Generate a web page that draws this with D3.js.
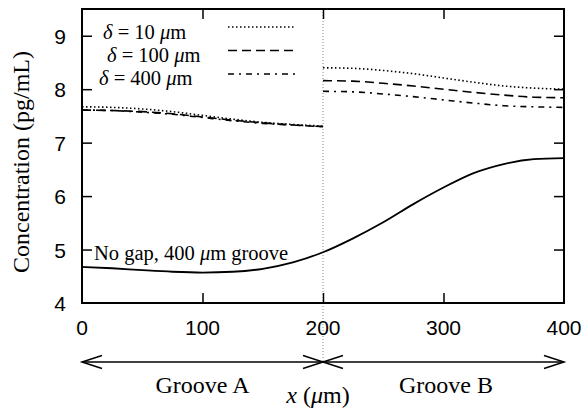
<!DOCTYPE html>
<html>
<head>
<meta charset="utf-8">
<script src="https://cdn.jsdelivr.net/npm/d3@7"></script>
<style>
  body { margin: 0; background: #fff; }
  svg { display: block; }
  .serif { font-family: "Liberation Serif", "Times New Roman", serif; }
  .sans { font-family: "Liberation Sans", Arial, sans-serif; }
</style>
</head>
<body>
<svg id="chart" width="587" height="410"></svg>
<script>
// x positions (um) for each half of the channel and the whole length
const xLeft = [0, 25, 50, 75, 100, 125, 150, 175, 200];
const xRight = [200, 225, 250, 275, 300, 325, 350, 375, 400];
const xFull = [0, 25, 50, 75, 100, 125, 150, 175, 200, 225, 250, 275, 300, 325, 350, 375, 400];

// concentration (pg/mL)
const d10Left = [7.67, 7.66, 7.63, 7.58, 7.51, 7.44, 7.38, 7.34, 7.31];
const d100Left = [7.61, 7.60, 7.58, 7.54, 7.48, 7.42, 7.37, 7.33, 7.30];
const d400Left = [7.61, 7.60, 7.57, 7.53, 7.47, 7.41, 7.36, 7.33, 7.30];
const d10Right = [8.40, 8.39, 8.35, 8.29, 8.21, 8.13, 8.06, 8.02, 8.00];
const d100Right = [8.16, 8.15, 8.11, 8.06, 8.00, 7.94, 7.89, 7.85, 7.84];
const d400Right = [7.96, 7.95, 7.91, 7.86, 7.80, 7.74, 7.69, 7.67, 7.66];
const noGap = [4.675, 4.65, 4.615, 4.585, 4.57, 4.585, 4.64, 4.76, 4.95, 5.21, 5.51, 5.85, 6.16, 6.43, 6.60, 6.69, 6.71];

const xTicks = [0, 100, 200, 300, 400];
const yTicks = [4, 5, 6, 7, 8, 9];
const legendLabels = ["10", "100", "400"];

const svg = d3.select("#chart");
const pLeft = 82, pRight = 564, pTop = 9, pBottom = 303;

const x = d3.scaleLinear().domain([0, 400]).range([pLeft, pRight]);
const y = d3.scaleLinear().domain([4, 9.5]).range([pBottom, pTop]);

const line = d3.line()
    .x(function (d) { return x(d[0]); })
    .y(function (d) { return y(d[1]); })
    .curve(d3.curveMonotoneX);

const zip = function (xs, ys) {
    return xs.map(function (v, i) { return [v, ys[i]]; });
};

const dashes = ["1.5,2.5", "9,5", "6,5,2,5"];

// divider between the grooves
svg.append("line")
    .attr("x1", x(200)).attr("x2", x(200))
    .attr("y1", pTop).attr("y2", 362)
    .attr("stroke", "#888").attr("stroke-width", 1)
    .attr("stroke-dasharray", "1,2");

const series = [
    {vals: [d10Left, d10Right], dash: dashes[0]},
    {vals: [d100Left, d100Right], dash: dashes[1]},
    {vals: [d400Left, d400Right], dash: dashes[2]}
];
series.forEach(function (s) {
    [zip(xLeft, s.vals[0]), zip(xRight, s.vals[1])].forEach(function (pts) {
        svg.append("path")
            .attr("d", line(pts))
            .attr("fill", "none")
            .attr("stroke", "#000")
            .attr("stroke-width", 1.6)
            .attr("stroke-dasharray", s.dash);
    });
});

svg.append("path")
    .attr("d", line(zip(xFull, noGap)))
    .attr("fill", "none")
    .attr("stroke", "#000")
    .attr("stroke-width", 1.8);

// axes - gnuplot style, ticks inward and mirrored
const g = svg.append("g");
g.append("g").attr("transform", "translate(0," + pBottom + ")")
    .call(d3.axisTop(x).tickValues(xTicks.slice(1, -1)).tickSize(10).tickFormat(""));
g.append("g").attr("transform", "translate(0," + pTop + ")")
    .call(d3.axisBottom(x).tickValues(xTicks.slice(1, -1)).tickSize(10).tickFormat(""));
g.append("g").attr("transform", "translate(" + pLeft + ",0)")
    .call(d3.axisRight(y).tickValues(yTicks.slice(1)).tickSize(10).tickFormat(""));
g.append("g").attr("transform", "translate(" + pRight + ",0)")
    .call(d3.axisLeft(y).tickValues(yTicks.slice(1)).tickSize(10).tickFormat(""));
g.selectAll(".domain").remove();
g.selectAll(".tick line").attr("stroke", "#000").attr("stroke-width", 1.5);

svg.append("rect")
    .attr("x", pLeft).attr("y", pTop)
    .attr("width", pRight - pLeft).attr("height", pBottom - pTop)
    .attr("fill", "none").attr("stroke", "#000").attr("stroke-width", 2);

svg.selectAll(".xlab").data(xTicks).enter().append("text")
    .attr("class", "sans")
    .attr("x", function (d) { return x(d); })
    .attr("y", 335)
    .attr("text-anchor", "middle")
    .attr("font-size", 21)
    .text(function (d) { return d; });

svg.selectAll(".ylab").data(yTicks).enter().append("text")
    .attr("class", "sans")
    .attr("x", 66)
    .attr("y", function (d) { return y(d) + 8; })
    .attr("text-anchor", "end")
    .attr("font-size", 21)
    .text(function (d) { return d; });

svg.append("text")
    .attr("class", "serif")
    .attr("transform", "translate(29,162) rotate(-90)")
    .attr("text-anchor", "middle")
    .attr("font-size", 24)
    .text("Concentration (pg/mL)");

// legend
const legX = [103, 107, 99];
legendLabels.forEach(function (lab, i) {
    const t = svg.append("text")
        .attr("class", "serif")
        .attr("x", legX[i])
        .attr("y", 39 + i * 23)
        .attr("font-size", 20.5);
    t.append("tspan").attr("font-style", "italic").text("δ");
    t.append("tspan").text(" = " + lab + " ");
    t.append("tspan").attr("font-style", "italic").text("μ");
    t.append("tspan").text("m");
    svg.append("line")
        .attr("x1", 228).attr("x2", 295)
        .attr("y1", 27 + i * 23.5).attr("y2", 27 + i * 23.5)
        .attr("stroke", "#000").attr("stroke-width", 1.6)
        .attr("stroke-dasharray", dashes[i]);
});

const note = svg.append("text")
    .attr("class", "serif")
    .attr("x", 94).attr("y", 260)
    .attr("font-size", 20.5);
note.append("tspan").text("No gap, 400 ");
note.append("tspan").attr("font-style", "italic").text("μ");
note.append("tspan").text("m groove");

// groove arrows
const ay = 362;
const arrows = svg.append("g").attr("stroke", "#000").attr("stroke-width", 1.5).attr("fill", "none");
arrows.append("line").attr("x1", x(0)).attr("x2", x(400)).attr("y1", ay).attr("y2", ay);
const head = function (tip, dir) {
    arrows.append("path")
        .attr("d", "M" + (tip + dir * 20) + "," + (ay - 6.5) + "L" + tip + "," + ay + "L" + (tip + dir * 20) + "," + (ay + 6.5));
};
head(x(0), 1);
head(x(200), -1);
head(x(200), 1);
head(x(400), -1);

svg.append("text").attr("class", "serif")
    .attr("x", x(100)).attr("y", 393)
    .attr("text-anchor", "middle").attr("font-size", 24)
    .text("Groove A");
svg.append("text").attr("class", "serif")
    .attr("x", x(302)).attr("y", 393)
    .attr("text-anchor", "middle").attr("font-size", 24)
    .text("Groove B");
const xl = svg.append("text").attr("class", "serif")
    .attr("x", 318).attr("y", 403)
    .attr("text-anchor", "middle").attr("font-size", 24);
xl.append("tspan").attr("font-style", "italic").text("x");
xl.append("tspan").text(" (");
xl.append("tspan").attr("font-style", "italic").text("μ");
xl.append("tspan").text("m)");
</script>
</body>
</html>
